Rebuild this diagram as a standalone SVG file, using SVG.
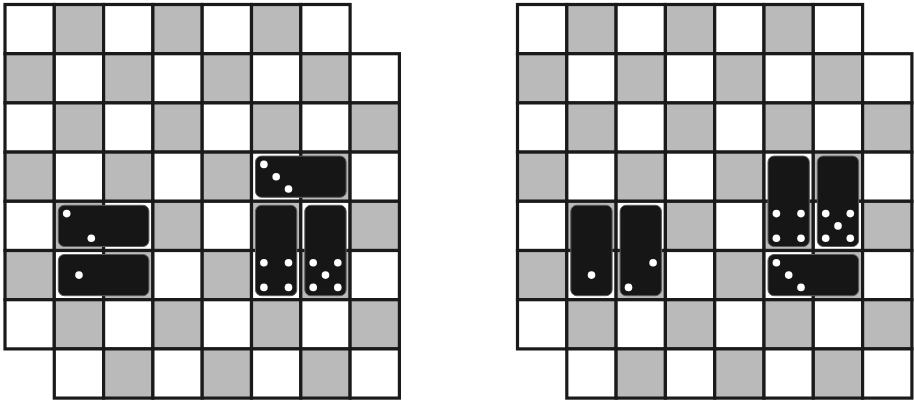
<svg xmlns="http://www.w3.org/2000/svg" xmlns:xlink="http://www.w3.org/1999/xlink" width="914" height="400" viewBox="0 0 914 400">
<style>
.w{fill:#ffffff}
.g{fill:#bababa}
.cells rect{stroke:#1a1a1a;stroke-width:3.2}
.dom{fill:#161616;stroke:#5a5a5a;stroke-width:1}
.pip{fill:#ffffff}
</style>
<defs>
<g id="board" class="cells">
<rect class="w" x="0" y="0" width="49.3" height="49.2"/><rect class="g" x="49.3" y="0" width="49.3" height="49.2"/><rect class="w" x="98.6" y="0" width="49.3" height="49.2"/><rect class="g" x="147.9" y="0" width="49.3" height="49.2"/><rect class="w" x="197.2" y="0" width="49.3" height="49.2"/><rect class="g" x="246.5" y="0" width="49.3" height="49.2"/><rect class="w" x="295.8" y="0" width="49.3" height="49.2"/>
<rect class="g" x="0" y="49.2" width="49.3" height="49.2"/><rect class="w" x="49.3" y="49.2" width="49.3" height="49.2"/><rect class="g" x="98.6" y="49.2" width="49.3" height="49.2"/><rect class="w" x="147.9" y="49.2" width="49.3" height="49.2"/><rect class="g" x="197.2" y="49.2" width="49.3" height="49.2"/><rect class="w" x="246.5" y="49.2" width="49.3" height="49.2"/><rect class="g" x="295.8" y="49.2" width="49.3" height="49.2"/><rect class="w" x="345.1" y="49.2" width="49.3" height="49.2"/>
<rect class="w" x="0" y="98.4" width="49.3" height="49.2"/><rect class="g" x="49.3" y="98.4" width="49.3" height="49.2"/><rect class="w" x="98.6" y="98.4" width="49.3" height="49.2"/><rect class="g" x="147.9" y="98.4" width="49.3" height="49.2"/><rect class="w" x="197.2" y="98.4" width="49.3" height="49.2"/><rect class="g" x="246.5" y="98.4" width="49.3" height="49.2"/><rect class="w" x="295.8" y="98.4" width="49.3" height="49.2"/><rect class="g" x="345.1" y="98.4" width="49.3" height="49.2"/>
<rect class="g" x="0" y="147.6" width="49.3" height="49.2"/><rect class="w" x="49.3" y="147.6" width="49.3" height="49.2"/><rect class="g" x="98.6" y="147.6" width="49.3" height="49.2"/><rect class="w" x="147.9" y="147.6" width="49.3" height="49.2"/><rect class="g" x="197.2" y="147.6" width="49.3" height="49.2"/><rect class="w" x="246.5" y="147.6" width="49.3" height="49.2"/><rect class="g" x="295.8" y="147.6" width="49.3" height="49.2"/><rect class="w" x="345.1" y="147.6" width="49.3" height="49.2"/>
<rect class="w" x="0" y="196.8" width="49.3" height="49.2"/><rect class="g" x="49.3" y="196.8" width="49.3" height="49.2"/><rect class="w" x="98.6" y="196.8" width="49.3" height="49.2"/><rect class="g" x="147.9" y="196.8" width="49.3" height="49.2"/><rect class="w" x="197.2" y="196.8" width="49.3" height="49.2"/><rect class="g" x="246.5" y="196.8" width="49.3" height="49.2"/><rect class="w" x="295.8" y="196.8" width="49.3" height="49.2"/><rect class="g" x="345.1" y="196.8" width="49.3" height="49.2"/>
<rect class="g" x="0" y="246" width="49.3" height="49.2"/><rect class="w" x="49.3" y="246" width="49.3" height="49.2"/><rect class="g" x="98.6" y="246" width="49.3" height="49.2"/><rect class="w" x="147.9" y="246" width="49.3" height="49.2"/><rect class="g" x="197.2" y="246" width="49.3" height="49.2"/><rect class="w" x="246.5" y="246" width="49.3" height="49.2"/><rect class="g" x="295.8" y="246" width="49.3" height="49.2"/><rect class="w" x="345.1" y="246" width="49.3" height="49.2"/>
<rect class="w" x="0" y="295.2" width="49.3" height="49.2"/><rect class="g" x="49.3" y="295.2" width="49.3" height="49.2"/><rect class="w" x="98.6" y="295.2" width="49.3" height="49.2"/><rect class="g" x="147.9" y="295.2" width="49.3" height="49.2"/><rect class="w" x="197.2" y="295.2" width="49.3" height="49.2"/><rect class="g" x="246.5" y="295.2" width="49.3" height="49.2"/><rect class="w" x="295.8" y="295.2" width="49.3" height="49.2"/><rect class="g" x="345.1" y="295.2" width="49.3" height="49.2"/>
<rect class="w" x="49.3" y="344.4" width="49.3" height="49.2"/><rect class="g" x="98.6" y="344.4" width="49.3" height="49.2"/><rect class="w" x="147.9" y="344.4" width="49.3" height="49.2"/><rect class="g" x="197.2" y="344.4" width="49.3" height="49.2"/><rect class="w" x="246.5" y="344.4" width="49.3" height="49.2"/><rect class="g" x="295.8" y="344.4" width="49.3" height="49.2"/><rect class="w" x="345.1" y="344.4" width="49.3" height="49.2"/>
</g>
</defs>
<g id="left-board">
<use xlink:href="#board" href="#board" transform="translate(5,4.5)"/>
<g id="L1"><rect class="dom" x="255.5" y="156.1" width="90.6" height="41.2" rx="6"/><circle class="pip" cx="263.9" cy="164.4" r="3.8"/><circle class="pip" cx="276.2" cy="176.7" r="3.8"/><circle class="pip" cx="288.5" cy="189" r="3.8"/></g>
<g id="L2"><rect class="dom" x="255.5" y="205.3" width="41.3" height="90.4" rx="6"/><circle class="pip" cx="263.9" cy="262.8" r="3.8"/><circle class="pip" cx="288.5" cy="262.8" r="3.8"/><circle class="pip" cx="263.9" cy="287.4" r="3.8"/><circle class="pip" cx="288.5" cy="287.4" r="3.8"/></g>
<g id="L3"><rect class="dom" x="304.8" y="205.3" width="41.3" height="90.4" rx="6"/><circle class="pip" cx="313.2" cy="262.8" r="3.8"/><circle class="pip" cx="337.8" cy="262.8" r="3.8"/><circle class="pip" cx="325.5" cy="275.1" r="3.8"/><circle class="pip" cx="313.2" cy="287.4" r="3.8"/><circle class="pip" cx="337.8" cy="287.4" r="3.8"/></g>
<g id="L4"><rect class="dom" x="58.3" y="205.3" width="90.6" height="41.2" rx="6"/><circle class="pip" cx="66.7" cy="213.6" r="3.8"/><circle class="pip" cx="91.3" cy="238.2" r="3.8"/></g>
<g id="L5"><rect class="dom" x="58.3" y="254.5" width="90.6" height="41.2" rx="6"/><circle class="pip" cx="79" cy="275.1" r="3.8"/></g>
</g>
<g id="right-board">
<use xlink:href="#board" href="#board" transform="translate(517.5,4.5)"/>
<g id="R1"><rect class="dom" x="570.8" y="205.3" width="41.3" height="90.4" rx="6"/><circle class="pip" cx="591.5" cy="275.1" r="3.8"/></g>
<g id="R2"><rect class="dom" x="620.1" y="205.3" width="41.3" height="90.4" rx="6"/><circle class="pip" cx="653.1" cy="262.8" r="3.8"/><circle class="pip" cx="628.5" cy="287.4" r="3.8"/></g>
<g id="R3"><rect class="dom" x="768" y="156.1" width="41.3" height="90.4" rx="6"/><circle class="pip" cx="776.4" cy="213.6" r="3.8"/><circle class="pip" cx="801" cy="213.6" r="3.8"/><circle class="pip" cx="776.4" cy="238.2" r="3.8"/><circle class="pip" cx="801" cy="238.2" r="3.8"/></g>
<g id="R4"><rect class="dom" x="817.3" y="156.1" width="41.3" height="90.4" rx="6"/><circle class="pip" cx="825.7" cy="213.6" r="3.8"/><circle class="pip" cx="850.3" cy="213.6" r="3.8"/><circle class="pip" cx="838" cy="225.9" r="3.8"/><circle class="pip" cx="825.7" cy="238.2" r="3.8"/><circle class="pip" cx="850.3" cy="238.2" r="3.8"/></g>
<g id="R5"><rect class="dom" x="768" y="254.5" width="90.6" height="41.2" rx="6"/><circle class="pip" cx="776.4" cy="262.8" r="3.8"/><circle class="pip" cx="788.7" cy="275.1" r="3.8"/><circle class="pip" cx="801" cy="287.4" r="3.8"/></g>
</g>
</svg>
